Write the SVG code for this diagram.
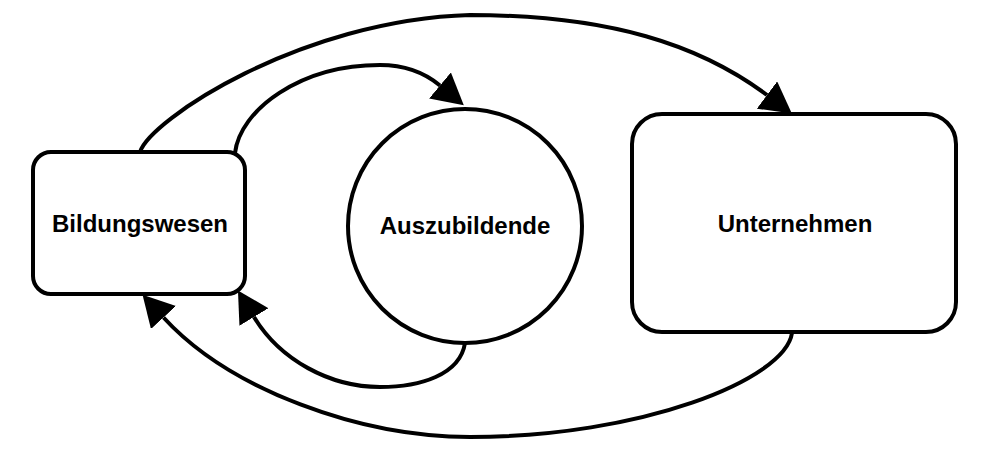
<svg xmlns="http://www.w3.org/2000/svg" width="1001" height="452" viewBox="0 0 1001 452">
<style>
.node{fill:#fff;stroke:#000;stroke-width:4}
.lbl{font-family:"Liberation Sans",Arial,sans-serif;font-weight:bold;font-size:24px;fill:#000;text-anchor:middle}
.edge{fill:none;stroke:#000;stroke-width:4;marker-end:url(#arr)}
</style>
<defs>
<marker id="arr" markerUnits="userSpaceOnUse" viewBox="0 -17 32 34" refX="0" refY="0" markerWidth="32" markerHeight="34" orient="auto">
<path d="M0,-17 L31,0 L0,17 Z" fill="#000"/>
</marker>
</defs>
<rect width="1001" height="452" fill="#fff"/>
<g id="connectors">
<path class="edge" d="M140,152 C150,120 300,20 470,15 C610,15 700,45 767,95"/>
<path class="edge" d="M235,153 C240,110 300,65 380,65 C405,65 425,73 440,85.5"/>
<path class="edge" d="M465,343 C460,375 420,387 380,387 C330,387 280,360 254,317"/>
<path class="edge" d="M792,333 C785,380 640,437 470,437 C360,437 230,390 163.5,317.5"/>
</g>
<g id="bildungswesen">
<rect class="node" x="33" y="152" width="212" height="142" rx="18"/>
<text class="lbl" x="140" y="232">Bildungswesen</text>
</g>
<g id="auszubildende">
<circle class="node" cx="465" cy="226" r="117"/>
<text class="lbl" x="465" y="234">Auszubildende</text>
</g>
<g id="unternehmen">
<rect class="node" x="632" y="114" width="324" height="218" rx="30"/>
<text class="lbl" x="795" y="232">Unternehmen</text>
</g>
</svg>
